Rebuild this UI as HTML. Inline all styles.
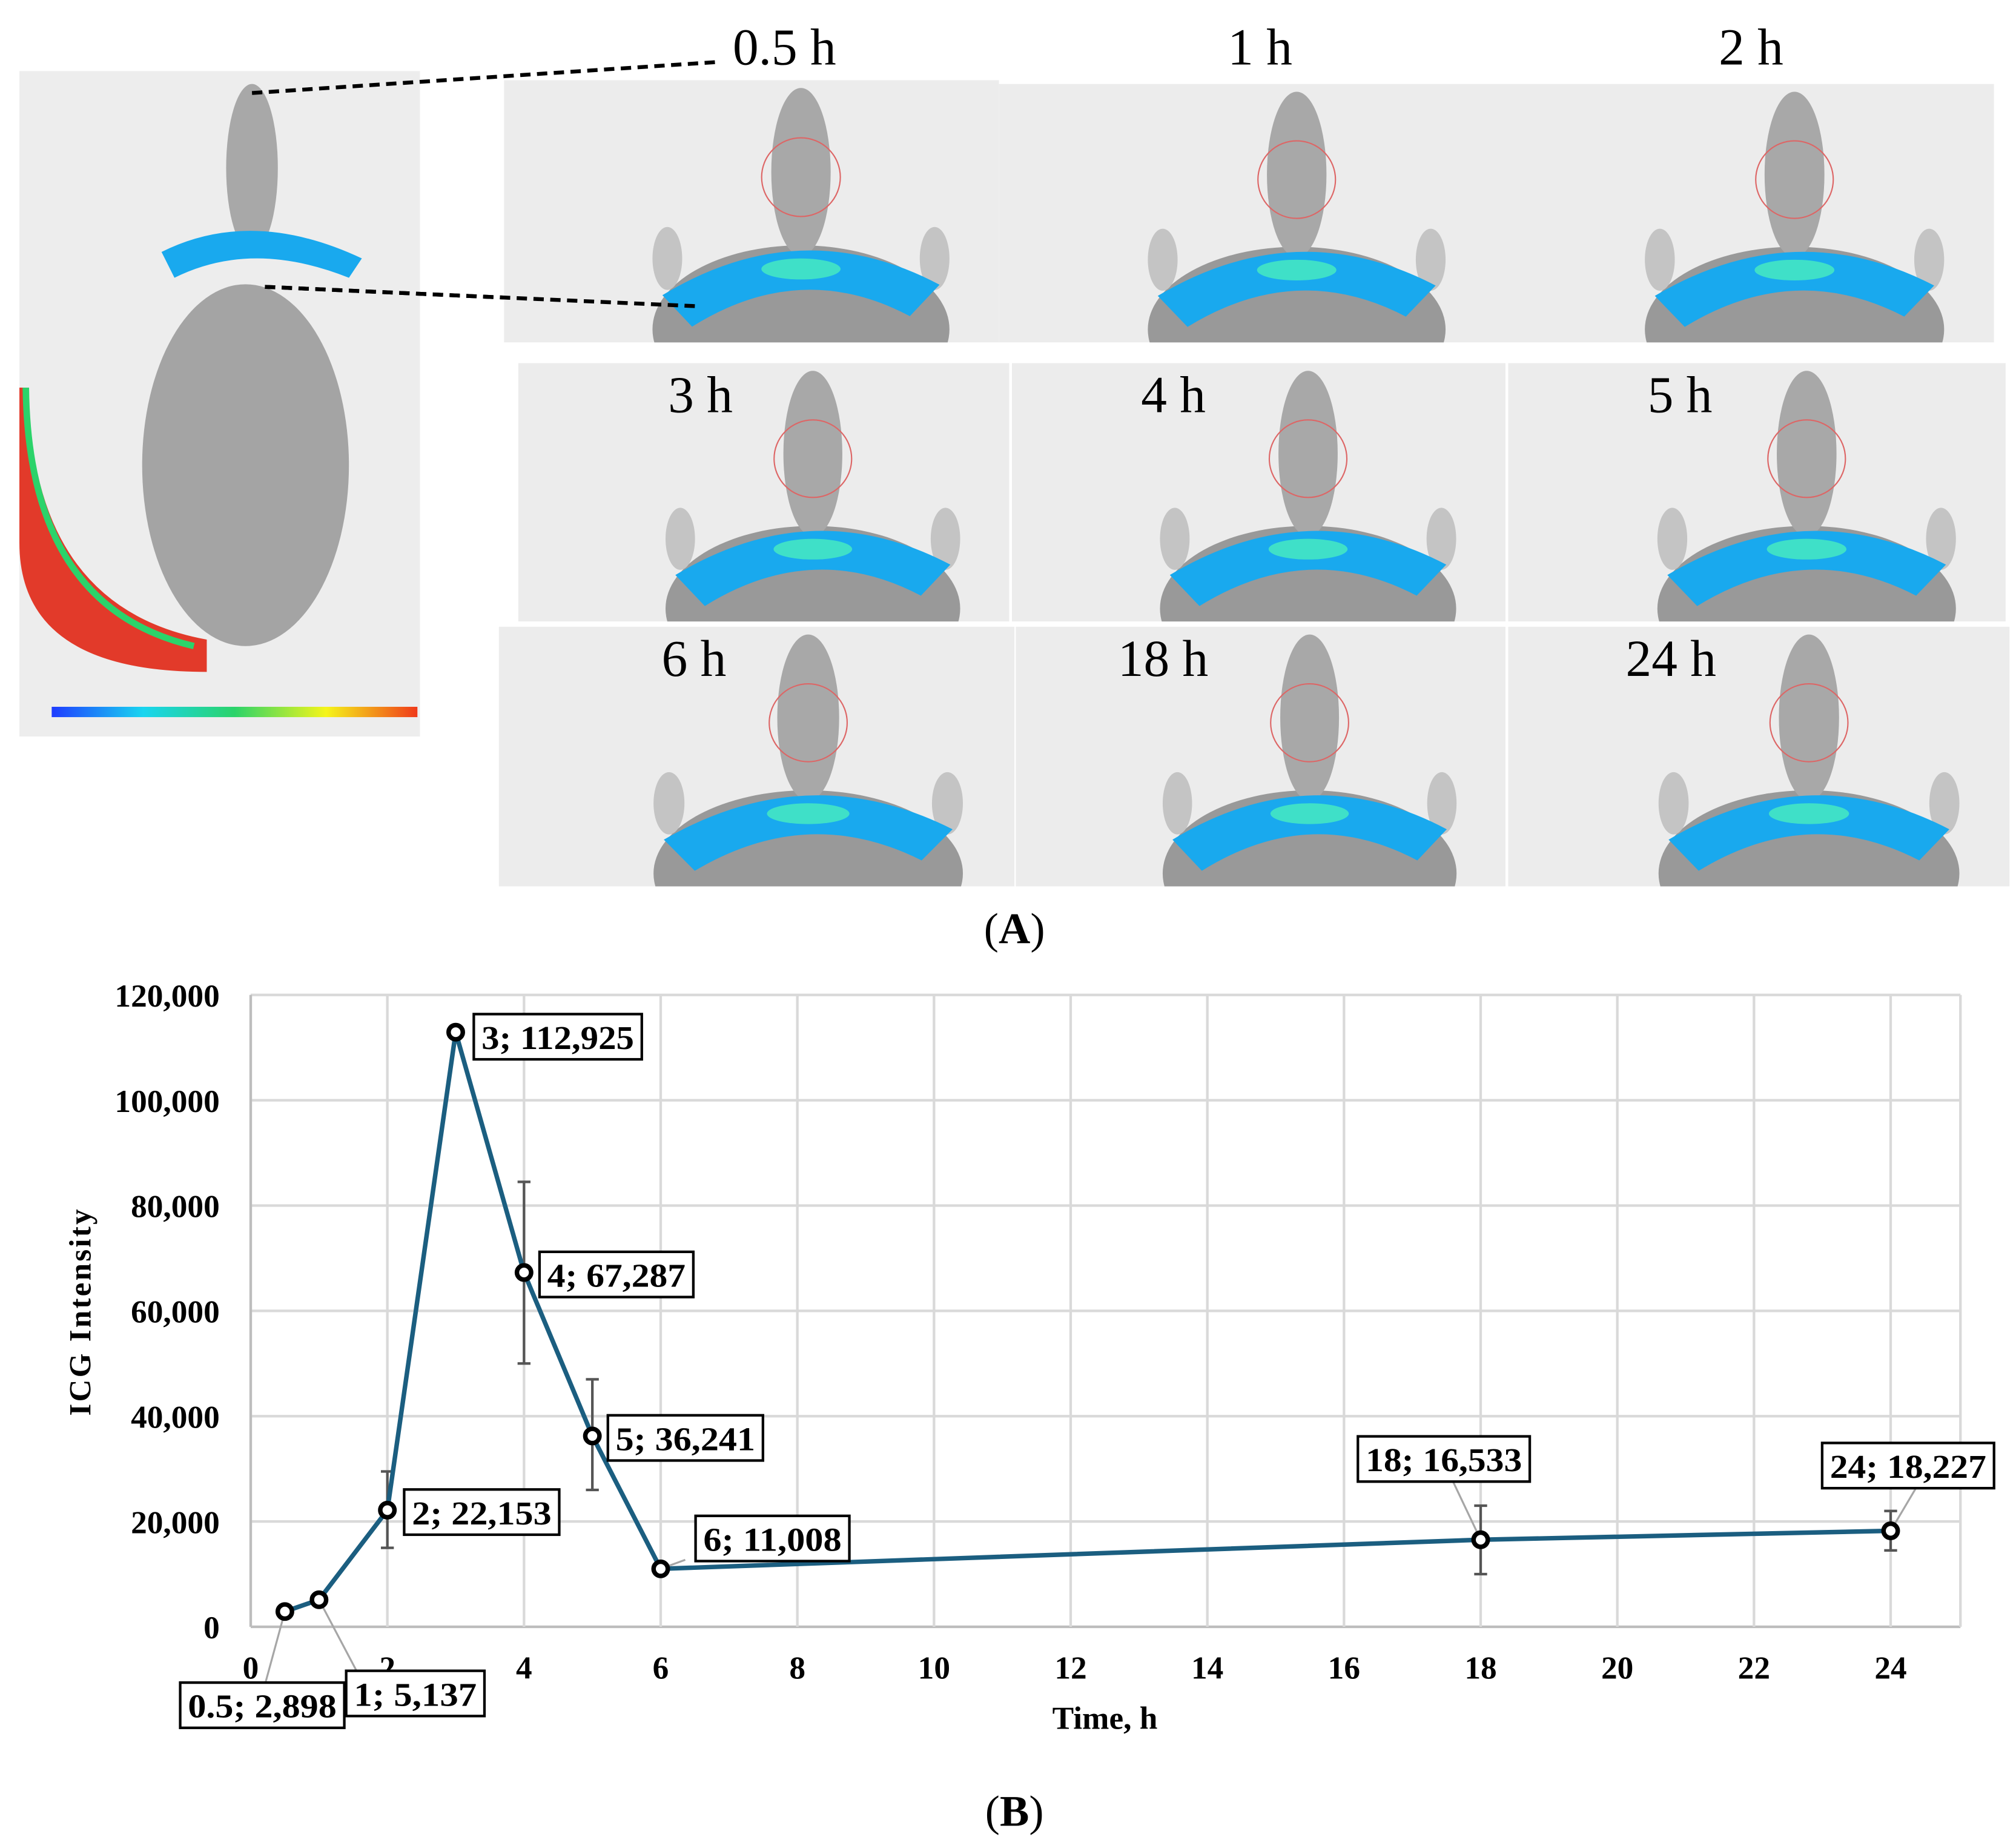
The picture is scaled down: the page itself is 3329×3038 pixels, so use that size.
<!DOCTYPE html>
<html><head><meta charset="utf-8"><style>
html,body{margin:0;padding:0;background:#fff}
svg{display:block}
text{font-family:"Liberation Serif",serif}
</style></head><body>
<svg id="fig" width="3329" height="3038" viewBox="0 0 1560 1424" preserveAspectRatio="none" xmlns="http://www.w3.org/2000/svg">
<rect width="1560" height="1424" fill="#fff"/>
<defs id="defs"></defs>
<g id="panelA"></g>
<text x="785" y="730" text-anchor="middle" font-size="34">(<tspan font-weight="bold">A</tspan>)</text>
<g id="chart"></g>
<text x="785" y="1413" text-anchor="middle" font-size="34">(<tspan font-weight="bold">B</tspan>)</text>
</svg>
<script>
const times=[0.5,1,2,3,4,5,6,18,24];
const values=[2898,5137,22153,112925,67287,36241,11008,16533,18227];
const errLow=[null,null,15000,null,50000,26000,null,10000,14500];
const errHigh=[null,null,29500,null,84500,47000,null,23000,22000];
const xTicks=[0,2,4,6,8,10,12,14,16,18,20,22,24];
const yTicks=[0,20000,40000,60000,80000,100000,120000];
const labelText=["0.5; 2,898","1; 5,137","2; 22,153","3; 112,925","4; 67,287","5; 36,241","6; 11,008","18; 16,533","24; 18,227"];
const NS="http://www.w3.org/2000/svg";
function mk(tag,attrs,parent){const e=document.createElementNS(NS,tag);for(const k in attrs)e.setAttribute(k,attrs[k]);parent.appendChild(e);return e;}
const L=194,R=1517,T=770,B=1259;
const xs=t=>L+t*(1463-L)/24;
const ys=v=>B-v*(B-T)/120000;
const fmt=v=>v.toLocaleString('en-US');

// ---- panel A (schematic images) ----
const pa=document.getElementById('panelA');
const defs=document.getElementById('defs');
let cid=0;
function panel(x,y,w,h,name,label,lx){
  const id='clip'+(cid++);
  const cp=mk('clipPath',{id:id},defs);
  mk('rect',{x:x,y:y,width:w,height:h},cp);
  const g=mk('g',{'clip-path':'url(#'+id+')'},pa);
  
  
  mk('rect',{x:x,y:y,width:w,height:h,fill:'#ececec'},g);
  const cx=x+w*0.6;
  mk('ellipse',{cx:cx,cy:y+h*0.95,rx:w*0.3,ry:h*0.32,fill:'#999'},g);
  mk('ellipse',{cx:cx,cy:y+h*0.35,rx:w*0.06,ry:h*0.32,fill:'#a8a8a8'},g);
  mk('ellipse',{cx:cx-w*0.27,cy:y+h*0.68,rx:w*0.03,ry:h*0.12,fill:'#c4c4c4'},g);
  mk('ellipse',{cx:cx+w*0.27,cy:y+h*0.68,rx:w*0.03,ry:h*0.12,fill:'#c4c4c4'},g);
  mk('circle',{cx:cx,cy:y+h*0.37,r:h*0.15,fill:'none',stroke:'#d66',"stroke-width":1},g);
  mk('path',{d:`M${cx-w*0.28} ${y+h*0.82} Q${cx} ${y+h*0.5} ${cx+w*0.28} ${y+h*0.78} L${cx+w*0.22} ${y+h*0.9} Q${cx} ${y+h*0.68} ${cx-w*0.22} ${y+h*0.94}Z`,fill:'#19a9ee'},g);
  mk('ellipse',{cx:cx,cy:y+h*0.72,rx:w*0.08,ry:h*0.04,fill:'#3fe0c8'},g);
  if(label){const t=mk('text',{x:lx,y:y+38,"font-size":40},pa);t.textContent=label;
    
    }
}
const big=mk('g',{},pa);


mk('rect',{x:15,y:55,width:310,height:515,fill:'#ededed'},big);
mk('ellipse',{cx:190,cy:360,rx:80,ry:140,fill:'#a4a4a4'},big);
mk('ellipse',{cx:195,cy:130,rx:20,ry:65,fill:'#a8a8a8'},big);
mk('path',{d:'M125 195 Q195 160 280 200 L270 215 Q195 185 135 215Z',fill:'#19a9ee'},big);
mk('path',{d:'M15 300 L22 300 Q24 470 160 495 L160 520 Q15 520 15 420Z',fill:'#e23a2a'},big);
mk('path',{d:'M20 300 Q22 470 150 500',fill:'none',stroke:'#2bd36a','stroke-width':5},big);
const gd=mk('linearGradient',{id:'cb',x1:0,x2:1,y1:0,y2:0},defs);
[['0','#1f3cff'],['0.25','#19d5f0'],['0.5','#2bd36a'],['0.75','#f5f51a'],['1','#f03a1a']].forEach(s=>mk('stop',{offset:s[0],'stop-color':s[1]},gd));
mk('rect',{x:40,y:547,width:283,height:8,fill:'url(#cb)'},big);
mk('line',{x1:195,y1:72,x2:555,y2:48,stroke:'#000','stroke-width':3,'stroke-dasharray':'8,5'},big);
mk('line',{x1:205,y1:222,x2:540,y2:237,stroke:'#000','stroke-width':3,'stroke-dasharray':'8,5'},big);
panel(390,62,383,203,'image-0-5h','',0);
panel(773,65,384,200,'image-1h','',0);
panel(1157,65,386,200,'image-2h','',0);
[['0.5 h',567],['1 h',950],['2 h',1330]].forEach(a=>{const t=mk('text',{x:a[1],y:50,"font-size":40},pa);t.textContent=a[0];
  
  });
panel(401,281,380,200,'image-3h','3 h',517);
panel(783,281,382,200,'image-4h','4 h',883);
panel(1167,281,385,200,'image-5h','5 h',1275);
panel(386,485,399,201,'image-6h','6 h',512);
panel(786,485,379,201,'image-18h','18 h',865);
panel(1167,485,388,201,'image-24h','24 h',1258);
// redraw dashed lines on top
mk('line',{x1:205,y1:222,x2:540,y2:237,stroke:'#000','stroke-width':3,'stroke-dasharray':'8,5'},pa);

// ---- chart ----
const c=document.getElementById('chart');
yTicks.forEach(v=>{
  const l=mk('line',{x1:L,x2:R,y1:ys(v),y2:ys(v),stroke:v===0?'#bdbdbd':'#d9d9d9','stroke-width':2},c);
  
  
  const t=mk('text',{x:170,y:ys(v)+9,'text-anchor':'end','font-size':25,'font-weight':'bold'},c);
  t.textContent=fmt(v);
  
  
});
xTicks.forEach(v=>{
  const l=mk('line',{x1:xs(v),x2:xs(v),y1:T,y2:B,stroke:'#d9d9d9','stroke-width':2},c);
  
  
  const t=mk('text',{x:xs(v),y:B+40,'text-anchor':'middle','font-size':25,'font-weight':'bold'},c);
  t.textContent=v;
  
  
});
mk('line',{x1:L,x2:L,y1:T,y2:B,stroke:'#bdbdbd','stroke-width':2},c);
mk('line',{x1:R,x2:R,y1:T,y2:B,stroke:'#d9d9d9','stroke-width':2},c);
times.forEach((t,i)=>{
  if(errLow[i]==null)return;
  const g=mk('g',{stroke:'#555','stroke-width':2},c);
  
  
  const x=xs(t);
  mk('line',{x1:x,x2:x,y1:ys(errLow[i]),y2:ys(errHigh[i])},g);
  mk('line',{x1:x-5,x2:x+5,y1:ys(errLow[i]),y2:ys(errLow[i])},g);
  mk('line',{x1:x-5,x2:x+5,y1:ys(errHigh[i]),y2:ys(errHigh[i])},g);
});
const line=mk('polyline',{points:times.map((t,i)=>xs(t)+','+ys(values[i])).join(' '),fill:'none',stroke:'#1b5e80','stroke-width':3.5,'stroke-linejoin':'round'},c);


const off=[[-81,55],[21,55],[13,-16],[14,-14],[12,-16],[12,-16],[27,-41],[-95,-80],[-53,-68]];
const bw=[127,107,120,130,119,120,119,133,133];
times.forEach((t,i)=>{
  const x=xs(t),y=ys(values[i]);
  const bx=x+off[i][0],by=y+off[i][1];
  if(i===0||i===1||i===6||i===7||i===8){
    const ly=(i<2)?by:by+34;
    const lx=(i===0)?bx+66:(i===1)?bx+8:(i===6)?bx-8:bx+bw[i]*0.55;
    const ll=mk('line',{x1:x,y1:y,x2:lx,y2:ly,stroke:'#a6a6a6','stroke-width':1.5},c);
    
    
  }
  const r=mk('rect',{x:bx,y:by,width:bw[i],height:35,fill:'#fff',stroke:'#000','stroke-width':2},c);
  
  
  const tx=mk('text',{x:bx+bw[i]/2,y:by+27,'text-anchor':'middle','font-size':26,'font-weight':'bold',textLength:bw[i]-12,lengthAdjust:'spacingAndGlyphs'},c);
  tx.textContent=labelText[i];
  
  
  const p=mk('circle',{cx:x,cy:y,r:5.5,fill:'#fff',stroke:'#000','stroke-width':3.5},c);
  
  
});
const yt=mk('text',{x:0,y:0,transform:'translate(70,1015) rotate(-90)','text-anchor':'middle','font-size':24,'font-weight':'bold','letter-spacing':'1.5'},c);
yt.textContent='ICG Intensity';


const xt=mk('text',{x:855,y:1338,'text-anchor':'middle','font-size':25,'font-weight':'bold'},c);
xt.textContent='Time, h';


</script>
</body></html>
